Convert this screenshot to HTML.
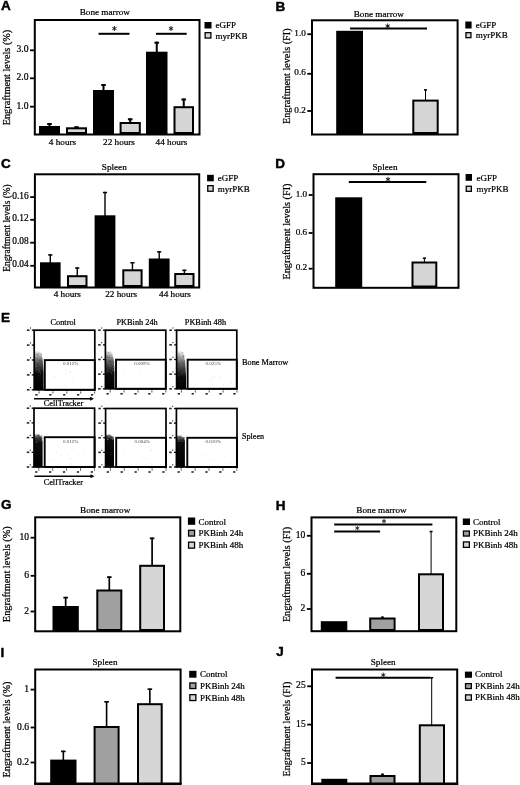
<!DOCTYPE html>
<html><head><meta charset="utf-8"><title>Figure</title>
<style>
html,body{margin:0;padding:0;background:#fff;}
body{width:520px;height:785px;overflow:hidden;}
svg{display:block;filter:grayscale(1) blur(0.45px);}
svg text{font-family:"Liberation Serif", serif;stroke:currentColor;stroke-width:0.22px;}
</style></head>
<body>
<svg width="520" height="785" viewBox="0 0 520 785" font-family='"Liberation Serif", serif'>
<rect x="0" y="0" width="520" height="785" fill="#fff"/>
<text x="1" y="10.0" style='font-family:"Liberation Sans", sans-serif;font-weight:bold;stroke:#000;stroke-width:0.45px' font-size="13.5">A</text>
<text x="104.8" y="14.6" font-size="9.2" text-anchor="middle" fill="#000" >Bone marrow</text>
<rect x="34.8" y="20.0" width="164.7" height="114.5" fill="none" stroke="#000" stroke-width="2"/>
<line x1="30" y1="50.3" x2="34" y2="50.3" stroke="#000" stroke-width="1.8"/>
<text x="28.5" y="48.8" font-size="9.6" text-anchor="end" fill="#000" dominant-baseline="central">3.0</text>
<line x1="30" y1="78.3" x2="34" y2="78.3" stroke="#000" stroke-width="1.8"/>
<text x="28.5" y="76.8" font-size="9.6" text-anchor="end" fill="#000" dominant-baseline="central">2.0</text>
<line x1="30" y1="106.7" x2="34" y2="106.7" stroke="#000" stroke-width="1.8"/>
<text x="28.5" y="105.2" font-size="9.6" text-anchor="end" fill="#000" dominant-baseline="central">1.0</text>
<text transform="translate(6.6,77.5) rotate(-90)" x="0" y="0" font-size="10.2" text-anchor="middle" dominant-baseline="central" textLength="95.5" lengthAdjust="spacingAndGlyphs">Engraftment levels (%)</text>
<line x1="49.5" y1="123" x2="49.5" y2="127" stroke="#000" stroke-width="2"/>
<line x1="47.2" y1="124.0" x2="51.8" y2="124.0" stroke="#000" stroke-width="2"/>
<rect x="39" y="126" width="21" height="8" fill="#000"/>
<line x1="76.5" y1="126.3" x2="76.5" y2="128.3" stroke="#000" stroke-width="2"/>
<line x1="74.2" y1="127.3" x2="78.8" y2="127.3" stroke="#000" stroke-width="2"/>
<rect x="67.0" y="128.3" width="19" height="4.700000000000003" fill="#d6d6d6" stroke="#000" stroke-width="2"/>
<line x1="103.5" y1="84" x2="103.5" y2="91" stroke="#000" stroke-width="2"/>
<line x1="101.2" y1="85.0" x2="105.8" y2="85.0" stroke="#000" stroke-width="2"/>
<rect x="93" y="90" width="21" height="44" fill="#000"/>
<line x1="130.2" y1="118.3" x2="130.2" y2="123" stroke="#000" stroke-width="2"/>
<line x1="127.89999999999999" y1="119.3" x2="132.5" y2="119.3" stroke="#000" stroke-width="2"/>
<rect x="120.6" y="123.0" width="19.200000000000017" height="10" fill="#d6d6d6" stroke="#000" stroke-width="2"/>
<line x1="156.75" y1="41.7" x2="156.75" y2="52.7" stroke="#000" stroke-width="2"/>
<line x1="154.45" y1="42.7" x2="159.05" y2="42.7" stroke="#000" stroke-width="2"/>
<rect x="146" y="51.7" width="21.5" height="82.3" fill="#000"/>
<line x1="183.75" y1="98.5" x2="183.75" y2="107.2" stroke="#000" stroke-width="2"/>
<line x1="181.45" y1="99.5" x2="186.05" y2="99.5" stroke="#000" stroke-width="2"/>
<rect x="174.5" y="107.2" width="18.5" height="25.799999999999997" fill="#d6d6d6" stroke="#000" stroke-width="2"/>
<line x1="98.5" y1="33.8" x2="129.5" y2="33.8" stroke="#000" stroke-width="2"/>
<line x1="114.4" y1="26.0" x2="114.4" y2="31.0" stroke="#000" stroke-width="0.85"/>
<line x1="112.23" y1="27.25" x2="116.57" y2="29.75" stroke="#000" stroke-width="0.85"/>
<line x1="116.57" y1="27.25" x2="112.23" y2="29.75" stroke="#000" stroke-width="0.85"/>
<line x1="156" y1="33.8" x2="186.7" y2="33.8" stroke="#000" stroke-width="2"/>
<line x1="171.0" y1="26.0" x2="171.0" y2="31.0" stroke="#000" stroke-width="0.85"/>
<line x1="168.83" y1="27.25" x2="173.17" y2="29.75" stroke="#000" stroke-width="0.85"/>
<line x1="173.17" y1="27.25" x2="168.83" y2="29.75" stroke="#000" stroke-width="0.85"/>
<text x="62.5" y="144.6" font-size="9.2" text-anchor="middle" fill="#000" >4 hours</text>
<text x="119" y="144.6" font-size="9.2" text-anchor="middle" fill="#000" >22 hours</text>
<text x="171.5" y="144.6" font-size="9.2" text-anchor="middle" fill="#000" >44 hours</text>
<rect x="204.5" y="22" width="7.0" height="6.5" fill="#000"/>
<text x="215.6" y="28.1" font-size="9.0" text-anchor="start" fill="#000" >eGFP</text>
<rect x="205.15" y="32.65" width="5.7" height="5.400000000000003" fill="#d6d6d6" stroke="#000" stroke-width="1.3"/>
<text x="215.6" y="38.7" font-size="9.0" text-anchor="start" fill="#000" >myrPKB</text>
<text x="275.6" y="10.6" style='font-family:"Liberation Sans", sans-serif;font-weight:bold;stroke:#000;stroke-width:0.45px' font-size="13.5">B</text>
<text x="378.8" y="16.7" font-size="9.2" text-anchor="middle" fill="#000" >Bone marrow</text>
<rect x="312.0" y="20.3" width="145.60000000000002" height="114.2" fill="none" stroke="#000" stroke-width="2"/>
<line x1="307.3" y1="34.2" x2="311.3" y2="34.2" stroke="#000" stroke-width="1.8"/>
<text x="305.8" y="32.7" font-size="9.2" text-anchor="end" fill="#000" dominant-baseline="central">1.0</text>
<line x1="307.3" y1="73.8" x2="311.3" y2="73.8" stroke="#000" stroke-width="1.8"/>
<text x="305.8" y="72.3" font-size="9.2" text-anchor="end" fill="#000" dominant-baseline="central">0.6</text>
<line x1="307.3" y1="111" x2="311.3" y2="111" stroke="#000" stroke-width="1.8"/>
<text x="305.8" y="109.5" font-size="9.2" text-anchor="end" fill="#000" dominant-baseline="central">0.2</text>
<text transform="translate(286.5,76.2) rotate(-90)" x="0" y="0" font-size="10.1" text-anchor="middle" dominant-baseline="central" textLength="95.5" lengthAdjust="spacingAndGlyphs">Engraftment levels (FI)</text>
<rect x="336.2" y="30.8" width="26.80000000000001" height="103.2" fill="#000"/>
<line x1="425.5" y1="89.2" x2="425.5" y2="100.5" stroke="#000" stroke-width="1"/>
<line x1="424.0" y1="89.95" x2="427.0" y2="89.95" stroke="#000" stroke-width="1.5"/>
<rect x="413.3" y="100.6" width="24.399999999999977" height="32.400000000000006" fill="#d6d6d6" stroke="#000" stroke-width="2"/>
<line x1="350" y1="28.6" x2="427" y2="28.6" stroke="#000" stroke-width="2"/>
<line x1="387.7" y1="23.5" x2="387.7" y2="28.5" stroke="#000" stroke-width="0.85"/>
<line x1="385.53" y1="24.75" x2="389.87" y2="27.25" stroke="#000" stroke-width="0.85"/>
<line x1="389.87" y1="24.75" x2="385.53" y2="27.25" stroke="#000" stroke-width="0.85"/>
<rect x="465.3" y="21.5" width="6.300000000000011" height="7.0" fill="#000"/>
<text x="475.8" y="28.0" font-size="9.0" text-anchor="start" fill="#000" >eGFP</text>
<rect x="465.95" y="32.65" width="5.0000000000000115" height="4.999999999999997" fill="#d6d6d6" stroke="#000" stroke-width="1.3"/>
<text x="475.8" y="38.0" font-size="9.0" text-anchor="start" fill="#000" >myrPKB</text>
<text x="1" y="167.7" style='font-family:"Liberation Sans", sans-serif;font-weight:bold;stroke:#000;stroke-width:0.45px' font-size="13.5">C</text>
<text x="114.3" y="170.2" font-size="9.2" text-anchor="middle" fill="#000" >Spleen</text>
<rect x="34.9" y="174.3" width="164.29999999999998" height="113.19999999999999" fill="none" stroke="#000" stroke-width="2"/>
<line x1="30.200000000000003" y1="197.1" x2="34.2" y2="197.1" stroke="#000" stroke-width="1.8"/>
<text x="28.700000000000003" y="195.6" font-size="9.4" text-anchor="end" fill="#000" dominant-baseline="central">0.16</text>
<line x1="30.200000000000003" y1="219.8" x2="34.2" y2="219.8" stroke="#000" stroke-width="1.8"/>
<text x="28.700000000000003" y="218.3" font-size="9.4" text-anchor="end" fill="#000" dominant-baseline="central">0.12</text>
<line x1="30.200000000000003" y1="242.7" x2="34.2" y2="242.7" stroke="#000" stroke-width="1.8"/>
<text x="28.700000000000003" y="241.2" font-size="9.4" text-anchor="end" fill="#000" dominant-baseline="central">0.08</text>
<line x1="30.200000000000003" y1="265.8" x2="34.2" y2="265.8" stroke="#000" stroke-width="1.8"/>
<text x="28.700000000000003" y="264.3" font-size="9.4" text-anchor="end" fill="#000" dominant-baseline="central">0.04</text>
<text transform="translate(6.5,228) rotate(-90)" x="0" y="0" font-size="9.4" text-anchor="middle" dominant-baseline="central" textLength="87.5" lengthAdjust="spacingAndGlyphs">Engraftment levels (%)</text>
<line x1="50.3" y1="254.2" x2="50.3" y2="263.3" stroke="#000" stroke-width="1.4"/>
<line x1="48.199999999999996" y1="254.95" x2="52.4" y2="254.95" stroke="#000" stroke-width="1.5"/>
<rect x="40" y="262.3" width="20.6" height="24.69999999999999" fill="#000"/>
<line x1="77.25" y1="267.3" x2="77.25" y2="276.2" stroke="#000" stroke-width="1.4"/>
<line x1="75.15" y1="268.05" x2="79.35" y2="268.05" stroke="#000" stroke-width="1.5"/>
<rect x="68.0" y="276.2" width="18.5" height="9.800000000000011" fill="#d6d6d6" stroke="#000" stroke-width="2"/>
<line x1="105.0" y1="191.79999999999998" x2="105.0" y2="216.3" stroke="#000" stroke-width="1.4"/>
<line x1="102.9" y1="192.54999999999998" x2="107.1" y2="192.54999999999998" stroke="#000" stroke-width="1.5"/>
<rect x="94.6" y="215.3" width="20.80000000000001" height="71.69999999999999" fill="#000"/>
<line x1="132.45" y1="262.0" x2="132.45" y2="270.3" stroke="#000" stroke-width="1.4"/>
<line x1="130.35" y1="262.75" x2="134.54999999999998" y2="262.75" stroke="#000" stroke-width="1.5"/>
<rect x="123.3" y="270.3" width="18.299999999999997" height="15.699999999999989" fill="#d6d6d6" stroke="#000" stroke-width="2"/>
<line x1="159.2" y1="251.1" x2="159.2" y2="259.5" stroke="#000" stroke-width="1.4"/>
<line x1="157.1" y1="251.85" x2="161.29999999999998" y2="251.85" stroke="#000" stroke-width="1.5"/>
<rect x="148.8" y="258.5" width="20.799999999999983" height="28.5" fill="#000"/>
<line x1="184.35" y1="269.6" x2="184.35" y2="274" stroke="#000" stroke-width="1.4"/>
<line x1="182.25" y1="270.35" x2="186.45" y2="270.35" stroke="#000" stroke-width="1.5"/>
<rect x="175.2" y="274.0" width="18.30000000000001" height="12" fill="#d6d6d6" stroke="#000" stroke-width="2"/>
<text x="67.3" y="297.2" font-size="9.2" text-anchor="middle" fill="#000" >4 hours</text>
<text x="121.2" y="297.2" font-size="9.2" text-anchor="middle" fill="#000" >22 hours</text>
<text x="175" y="297.2" font-size="9.2" text-anchor="middle" fill="#000" >44 hours</text>
<rect x="207.1" y="174.8" width="6.700000000000017" height="6.5" fill="#000"/>
<text x="217.8" y="181.2" font-size="9.0" text-anchor="start" fill="#000" >eGFP</text>
<rect x="207.75" y="185.65" width="5.400000000000017" height="5.600000000000006" fill="#d6d6d6" stroke="#000" stroke-width="1.3"/>
<text x="217.8" y="191.6" font-size="9.0" text-anchor="start" fill="#000" >myrPKB</text>
<text x="275.3" y="168" style='font-family:"Liberation Sans", sans-serif;font-weight:bold;stroke:#000;stroke-width:0.45px' font-size="13.5">D</text>
<text x="385" y="170" font-size="9.2" text-anchor="middle" fill="#000" >Spleen</text>
<rect x="313.5" y="174.2" width="145.0" height="113.60000000000002" fill="none" stroke="#000" stroke-width="2"/>
<line x1="308.7" y1="195" x2="312.7" y2="195" stroke="#000" stroke-width="1.8"/>
<text x="307.2" y="193.5" font-size="9.2" text-anchor="end" fill="#000" dominant-baseline="central">1.0</text>
<line x1="308.7" y1="233" x2="312.7" y2="233" stroke="#000" stroke-width="1.8"/>
<text x="307.2" y="231.5" font-size="9.2" text-anchor="end" fill="#000" dominant-baseline="central">0.6</text>
<line x1="308.7" y1="268.7" x2="312.7" y2="268.7" stroke="#000" stroke-width="1.8"/>
<text x="307.2" y="267.2" font-size="9.2" text-anchor="end" fill="#000" dominant-baseline="central">0.2</text>
<text transform="translate(286.5,231.5) rotate(-90)" x="0" y="0" font-size="10.1" text-anchor="middle" dominant-baseline="central" textLength="96" lengthAdjust="spacingAndGlyphs">Engraftment levels (FI)</text>
<rect x="335.2" y="197.3" width="27.0" height="90.19999999999999" fill="#000"/>
<line x1="424.4" y1="257.5" x2="424.4" y2="262.5" stroke="#000" stroke-width="1"/>
<line x1="422.9" y1="258.25" x2="425.9" y2="258.25" stroke="#000" stroke-width="1.5"/>
<rect x="412.5" y="262.5" width="23.80000000000001" height="24.0" fill="#d6d6d6" stroke="#000" stroke-width="2"/>
<line x1="348.8" y1="182" x2="426.3" y2="182" stroke="#000" stroke-width="2"/>
<line x1="388.0" y1="176.8" x2="388.0" y2="181.8" stroke="#000" stroke-width="0.85"/>
<line x1="385.83" y1="178.05" x2="390.17" y2="180.55" stroke="#000" stroke-width="0.85"/>
<line x1="390.17" y1="178.05" x2="385.83" y2="180.55" stroke="#000" stroke-width="0.85"/>
<rect x="465.6" y="174" width="6.399999999999977" height="6.800000000000011" fill="#000"/>
<text x="476.5" y="180.8" font-size="9.0" text-anchor="start" fill="#000" >eGFP</text>
<rect x="466.25" y="186.25" width="5.099999999999977" height="5.100000000000006" fill="#d6d6d6" stroke="#000" stroke-width="1.3"/>
<text x="476.5" y="191.5" font-size="9.0" text-anchor="start" fill="#000" >myrPKB</text>
<text x="1" y="321.9" style='font-family:"Liberation Sans", sans-serif;font-weight:bold;stroke:#000;stroke-width:0.45px' font-size="13.5">E</text>
<defs><linearGradient id="g34_330" x1="0" y1="1" x2="0" y2="0"><stop offset="0" stop-color="#000"/><stop offset="0.433" stop-color="#0c0c0c"/><stop offset="0.768" stop-color="#6a6a6a"/><stop offset="1" stop-color="#f4f4f4"/></linearGradient></defs>
<polygon points="34.2,389.8 43.6,389.8 43.6,373 42.800000000000004,360 41.1,353 39.2,351 34.2,351" fill="url(#g34_330)"/>
<rect x="37.6" y="355.2" width="1" height="1" fill="rgb(123,123,123)" opacity="0.6"/>
<rect x="35.6" y="369.2" width="1" height="1" fill="rgb(52,52,52)" opacity="0.6"/>
<rect x="37.9" y="353.2" width="1" height="1" fill="rgb(104,104,104)" opacity="0.6"/>
<rect x="36.8" y="353.8" width="1" height="1" fill="rgb(93,93,93)" opacity="0.6"/>
<rect x="35.7" y="353.9" width="1" height="1" fill="rgb(94,94,94)" opacity="0.6"/>
<rect x="35.6" y="363.9" width="1" height="1" fill="rgb(68,68,68)" opacity="0.6"/>
<rect x="39.9" y="364.2" width="1" height="1" fill="rgb(47,47,47)" opacity="0.6"/>
<rect x="39.5" y="360.3" width="1" height="1" fill="rgb(68,68,68)" opacity="0.6"/>
<rect x="35.5" y="370.0" width="1" height="1" fill="rgb(77,77,77)" opacity="0.6"/>
<rect x="38.3" y="363.4" width="1" height="1" fill="rgb(113,113,113)" opacity="0.6"/>
<rect x="37.5" y="369.1" width="1" height="1" fill="rgb(63,63,63)" opacity="0.6"/>
<rect x="36.0" y="364.0" width="1" height="1" fill="rgb(64,64,64)" opacity="0.6"/>
<rect x="38.0" y="363.5" width="1" height="1" fill="rgb(48,48,48)" opacity="0.6"/>
<rect x="39.4" y="365.0" width="1" height="1" fill="rgb(103,103,103)" opacity="0.6"/>
<rect x="40.2" y="361.0" width="1" height="1" fill="rgb(80,80,80)" opacity="0.6"/>
<rect x="38.6" y="371.4" width="1" height="1" fill="rgb(86,86,86)" opacity="0.6"/>
<rect x="37.4" y="368.7" width="1" height="1" fill="rgb(129,129,129)" opacity="0.6"/>
<rect x="41.0" y="353.7" width="1" height="1" fill="rgb(78,78,78)" opacity="0.6"/>
<rect x="39.1" y="370.4" width="1" height="1" fill="rgb(133,133,133)" opacity="0.6"/>
<rect x="38.5" y="364.8" width="1" height="1" fill="rgb(49,49,49)" opacity="0.6"/>
<rect x="36.1" y="360.8" width="1" height="1" fill="rgb(136,136,136)" opacity="0.6"/>
<rect x="37.7" y="371.6" width="1" height="1" fill="rgb(93,93,93)" opacity="0.6"/>
<rect x="35.5" y="366.0" width="1" height="1" fill="rgb(137,137,137)" opacity="0.6"/>
<rect x="39.3" y="368.6" width="1" height="1" fill="rgb(80,80,80)" opacity="0.6"/>
<rect x="37.7" y="359.4" width="1" height="1" fill="rgb(103,103,103)" opacity="0.6"/>
<rect x="39.5" y="361.6" width="1" height="1" fill="rgb(51,51,51)" opacity="0.6"/>
<rect x="42.2" y="362.0" width="1" height="1" fill="rgb(125,125,125)" opacity="0.6"/>
<rect x="35.7" y="367.4" width="1" height="1" fill="rgb(79,79,79)" opacity="0.6"/>
<rect x="40.0" y="372.9" width="1" height="1" fill="rgb(97,97,97)" opacity="0.6"/>
<rect x="37.3" y="360.1" width="1" height="1" fill="rgb(125,125,125)" opacity="0.6"/>
<rect x="63.4" y="385.7" width="1" height="1" fill="#e6e6e6"/>
<rect x="63.7" y="379.5" width="1" height="1" fill="#e6e6e6"/>
<rect x="69.5" y="372.2" width="1" height="1" fill="#e6e6e6"/>
<rect x="60.9" y="381.9" width="1" height="1" fill="#e6e6e6"/>
<rect x="65.5" y="385.2" width="1" height="1" fill="#e6e6e6"/>
<rect x="69.7" y="371.2" width="1" height="1" fill="#e6e6e6"/>
<rect x="65.7" y="373.3" width="1" height="1" fill="#e6e6e6"/>
<rect x="54.6" y="376.2" width="1" height="1" fill="#e6e6e6"/>
<rect x="71.9" y="381.3" width="1" height="1" fill="#e6e6e6"/>
<rect x="90.2" y="380.9" width="1" height="1" fill="#e6e6e6"/>
<rect x="34.2" y="330.2" width="60.599999999999994" height="59.60000000000002" fill="none" stroke="#000" stroke-width="1.7"/>
<rect x="44.8" y="360.1" width="50.0" height="29.69999999999999" fill="none" stroke="#000" stroke-width="1.9"/>
<text x="70.8" y="365.40000000000003" font-size="5.0" text-anchor="middle" fill="#444" style="stroke:none">0.012%</text>
<line x1="31.800000000000004" y1="389.8" x2="34.2" y2="389.8" stroke="#000" stroke-width="1.3"/>
<rect x="26.900000000000002" y="389.0" width="2.6000000000000014" height="1.6000000000000227" fill="#2a2a2a"/>
<rect x="30.000000000000004" y="387.0" width="1.0" height="1.1999999999999886" fill="#222"/>
<line x1="31.800000000000004" y1="374.9" x2="34.2" y2="374.9" stroke="#000" stroke-width="1.3"/>
<rect x="26.900000000000002" y="374.09999999999997" width="2.6000000000000014" height="1.6000000000000227" fill="#2a2a2a"/>
<rect x="30.000000000000004" y="372.09999999999997" width="1.0" height="1.1999999999999886" fill="#222"/>
<line x1="31.800000000000004" y1="360.0" x2="34.2" y2="360.0" stroke="#000" stroke-width="1.3"/>
<rect x="26.900000000000002" y="359.2" width="2.6000000000000014" height="1.6000000000000227" fill="#2a2a2a"/>
<rect x="30.000000000000004" y="357.2" width="1.0" height="1.1999999999999886" fill="#222"/>
<line x1="31.800000000000004" y1="345.1" x2="34.2" y2="345.1" stroke="#000" stroke-width="1.3"/>
<rect x="26.900000000000002" y="344.3" width="2.6000000000000014" height="1.6000000000000227" fill="#2a2a2a"/>
<rect x="30.000000000000004" y="342.3" width="1.0" height="1.1999999999999886" fill="#222"/>
<line x1="31.800000000000004" y1="330.2" x2="34.2" y2="330.2" stroke="#000" stroke-width="1.3"/>
<rect x="26.900000000000002" y="329.4" width="2.6000000000000014" height="1.6000000000000227" fill="#2a2a2a"/>
<rect x="30.000000000000004" y="327.4" width="1.0" height="1.1999999999999886" fill="#222"/>
<rect x="35.300000000000004" y="394.0" width="2.299999999999997" height="1.6000000000000227" fill="#2a2a2a"/>
<rect x="38.50000000000001" y="392.2" width="1.0" height="1.2000000000000455" fill="#222"/>
<line x1="39.00000000000001" y1="389.8" x2="39.00000000000001" y2="391.40000000000003" stroke="#000" stroke-width="1.0"/>
<rect x="49.2" y="394.0" width="2.299999999999997" height="1.6000000000000227" fill="#2a2a2a"/>
<rect x="52.400000000000006" y="392.2" width="1.0" height="1.2000000000000455" fill="#222"/>
<line x1="52.900000000000006" y1="389.8" x2="52.900000000000006" y2="391.40000000000003" stroke="#000" stroke-width="1.0"/>
<rect x="63.10000000000001" y="394.0" width="2.299999999999997" height="1.6000000000000227" fill="#2a2a2a"/>
<rect x="66.30000000000001" y="392.2" width="1.0" height="1.2000000000000455" fill="#222"/>
<line x1="66.80000000000001" y1="389.8" x2="66.80000000000001" y2="391.40000000000003" stroke="#000" stroke-width="1.0"/>
<rect x="77.0" y="394.0" width="2.299999999999997" height="1.6000000000000227" fill="#2a2a2a"/>
<rect x="80.2" y="392.2" width="1.0" height="1.2000000000000455" fill="#222"/>
<line x1="80.7" y1="389.8" x2="80.7" y2="391.40000000000003" stroke="#000" stroke-width="1.0"/>
<rect x="90.9" y="394.0" width="2.299999999999997" height="1.6000000000000227" fill="#2a2a2a"/>
<rect x="94.10000000000001" y="392.2" width="1.0" height="1.2000000000000455" fill="#222"/>
<line x1="94.60000000000001" y1="389.8" x2="94.60000000000001" y2="391.40000000000003" stroke="#000" stroke-width="1.0"/>
<defs><linearGradient id="g105_330" x1="0" y1="1" x2="0" y2="0"><stop offset="0" stop-color="#000"/><stop offset="0.399" stop-color="#0c0c0c"/><stop offset="0.762" stop-color="#6a6a6a"/><stop offset="1" stop-color="#f4f4f4"/></linearGradient></defs>
<polygon points="105.4,388.8 114.6,388.8 114.6,373.7 113.8,360 112.1,353 110.4,351 105.4,351" fill="url(#g105_330)"/>
<rect x="109.1" y="357.0" width="1" height="1" fill="rgb(50,50,50)" opacity="0.6"/>
<rect x="107.7" y="357.0" width="1" height="1" fill="rgb(69,69,69)" opacity="0.6"/>
<rect x="106.5" y="370.0" width="1" height="1" fill="rgb(63,63,63)" opacity="0.6"/>
<rect x="108.3" y="352.1" width="1" height="1" fill="rgb(93,93,93)" opacity="0.6"/>
<rect x="110.2" y="365.2" width="1" height="1" fill="rgb(80,80,80)" opacity="0.6"/>
<rect x="113.3" y="367.0" width="1" height="1" fill="rgb(105,105,105)" opacity="0.6"/>
<rect x="113.2" y="366.2" width="1" height="1" fill="rgb(134,134,134)" opacity="0.6"/>
<rect x="106.8" y="371.5" width="1" height="1" fill="rgb(139,139,139)" opacity="0.6"/>
<rect x="113.3" y="366.8" width="1" height="1" fill="rgb(111,111,111)" opacity="0.6"/>
<rect x="109.2" y="360.7" width="1" height="1" fill="rgb(53,53,53)" opacity="0.6"/>
<rect x="109.9" y="360.7" width="1" height="1" fill="rgb(64,64,64)" opacity="0.6"/>
<rect x="106.9" y="356.5" width="1" height="1" fill="rgb(60,60,60)" opacity="0.6"/>
<rect x="107.2" y="365.0" width="1" height="1" fill="rgb(53,53,53)" opacity="0.6"/>
<rect x="106.4" y="355.3" width="1" height="1" fill="rgb(52,52,52)" opacity="0.6"/>
<rect x="113.2" y="365.3" width="1" height="1" fill="rgb(49,49,49)" opacity="0.6"/>
<rect x="112.7" y="365.3" width="1" height="1" fill="rgb(59,59,59)" opacity="0.6"/>
<rect x="111.0" y="372.7" width="1" height="1" fill="rgb(117,117,117)" opacity="0.6"/>
<rect x="109.0" y="354.7" width="1" height="1" fill="rgb(102,102,102)" opacity="0.6"/>
<rect x="113.6" y="362.1" width="1" height="1" fill="rgb(101,101,101)" opacity="0.6"/>
<rect x="108.6" y="355.1" width="1" height="1" fill="rgb(135,135,135)" opacity="0.6"/>
<rect x="108.9" y="357.7" width="1" height="1" fill="rgb(128,128,128)" opacity="0.6"/>
<rect x="107.6" y="352.5" width="1" height="1" fill="rgb(107,107,107)" opacity="0.6"/>
<rect x="109.0" y="367.0" width="1" height="1" fill="rgb(43,43,43)" opacity="0.6"/>
<rect x="111.9" y="358.5" width="1" height="1" fill="rgb(122,122,122)" opacity="0.6"/>
<rect x="112.6" y="367.1" width="1" height="1" fill="rgb(73,73,73)" opacity="0.6"/>
<rect x="110.1" y="371.7" width="1" height="1" fill="rgb(85,85,85)" opacity="0.6"/>
<rect x="112.0" y="363.6" width="1" height="1" fill="rgb(139,139,139)" opacity="0.6"/>
<rect x="110.0" y="365.8" width="1" height="1" fill="rgb(118,118,118)" opacity="0.6"/>
<rect x="112.2" y="373.4" width="1" height="1" fill="rgb(64,64,64)" opacity="0.6"/>
<rect x="112.2" y="369.8" width="1" height="1" fill="rgb(134,134,134)" opacity="0.6"/>
<rect x="153.6" y="371.3" width="1" height="1" fill="#e6e6e6"/>
<rect x="140.6" y="380.9" width="1" height="1" fill="#e6e6e6"/>
<rect x="161.4" y="382.0" width="1" height="1" fill="#e6e6e6"/>
<rect x="139.7" y="371.2" width="1" height="1" fill="#e6e6e6"/>
<rect x="145.3" y="373.9" width="1" height="1" fill="#e6e6e6"/>
<rect x="153.8" y="380.8" width="1" height="1" fill="#e6e6e6"/>
<rect x="134.6" y="385.3" width="1" height="1" fill="#e6e6e6"/>
<rect x="123.4" y="369.5" width="1" height="1" fill="#e6e6e6"/>
<rect x="139.6" y="373.8" width="1" height="1" fill="#e6e6e6"/>
<rect x="140.2" y="385.5" width="1" height="1" fill="#e6e6e6"/>
<rect x="105.4" y="330.2" width="60.400000000000006" height="58.60000000000002" fill="none" stroke="#000" stroke-width="1.7"/>
<rect x="116.0" y="359.7" width="49.80000000000001" height="29.100000000000023" fill="none" stroke="#000" stroke-width="1.9"/>
<text x="141.9" y="365.0" font-size="5.0" text-anchor="middle" fill="#444" style="stroke:none">0.009%</text>
<line x1="103.0" y1="388.8" x2="105.4" y2="388.8" stroke="#000" stroke-width="1.3"/>
<rect x="98.10000000000001" y="388.0" width="2.5999999999999943" height="1.6000000000000227" fill="#2a2a2a"/>
<rect x="101.2" y="386.0" width="1.0" height="1.1999999999999886" fill="#222"/>
<line x1="103.0" y1="374.15" x2="105.4" y2="374.15" stroke="#000" stroke-width="1.3"/>
<rect x="98.10000000000001" y="373.34999999999997" width="2.5999999999999943" height="1.6000000000000227" fill="#2a2a2a"/>
<rect x="101.2" y="371.34999999999997" width="1.0" height="1.1999999999999886" fill="#222"/>
<line x1="103.0" y1="359.5" x2="105.4" y2="359.5" stroke="#000" stroke-width="1.3"/>
<rect x="98.10000000000001" y="358.7" width="2.5999999999999943" height="1.6000000000000227" fill="#2a2a2a"/>
<rect x="101.2" y="356.7" width="1.0" height="1.1999999999999886" fill="#222"/>
<line x1="103.0" y1="344.85" x2="105.4" y2="344.85" stroke="#000" stroke-width="1.3"/>
<rect x="98.10000000000001" y="344.05" width="2.5999999999999943" height="1.6000000000000227" fill="#2a2a2a"/>
<rect x="101.2" y="342.05" width="1.0" height="1.1999999999999886" fill="#222"/>
<line x1="103.0" y1="330.2" x2="105.4" y2="330.2" stroke="#000" stroke-width="1.3"/>
<rect x="98.10000000000001" y="329.4" width="2.5999999999999943" height="1.6000000000000227" fill="#2a2a2a"/>
<rect x="101.2" y="327.4" width="1.0" height="1.1999999999999886" fill="#222"/>
<rect x="106.5" y="393.0" width="2.299999999999997" height="1.6000000000000227" fill="#2a2a2a"/>
<rect x="109.7" y="391.2" width="1.0" height="1.2000000000000455" fill="#222"/>
<line x1="110.2" y1="388.8" x2="110.2" y2="390.40000000000003" stroke="#000" stroke-width="1.0"/>
<rect x="120.4" y="393.0" width="2.299999999999997" height="1.6000000000000227" fill="#2a2a2a"/>
<rect x="123.60000000000001" y="391.2" width="1.0" height="1.2000000000000455" fill="#222"/>
<line x1="124.10000000000001" y1="388.8" x2="124.10000000000001" y2="390.40000000000003" stroke="#000" stroke-width="1.0"/>
<rect x="134.3" y="393.0" width="2.3000000000000114" height="1.6000000000000227" fill="#2a2a2a"/>
<rect x="137.5" y="391.2" width="1.0" height="1.2000000000000455" fill="#222"/>
<line x1="138.0" y1="388.8" x2="138.0" y2="390.40000000000003" stroke="#000" stroke-width="1.0"/>
<rect x="148.2" y="393.0" width="2.3000000000000114" height="1.6000000000000227" fill="#2a2a2a"/>
<rect x="151.39999999999998" y="391.2" width="1.0" height="1.2000000000000455" fill="#222"/>
<line x1="151.89999999999998" y1="388.8" x2="151.89999999999998" y2="390.40000000000003" stroke="#000" stroke-width="1.0"/>
<rect x="162.1" y="393.0" width="2.3000000000000114" height="1.6000000000000227" fill="#2a2a2a"/>
<rect x="165.29999999999998" y="391.2" width="1.0" height="1.2000000000000455" fill="#222"/>
<line x1="165.79999999999998" y1="388.8" x2="165.79999999999998" y2="390.40000000000003" stroke="#000" stroke-width="1.0"/>
<defs><linearGradient id="g176_330" x1="0" y1="1" x2="0" y2="0"><stop offset="0" stop-color="#000"/><stop offset="0.339" stop-color="#0c0c0c"/><stop offset="0.709" stop-color="#6a6a6a"/><stop offset="1" stop-color="#f4f4f4"/></linearGradient></defs>
<polygon points="176.6,388.8 186.0,388.8 186.0,376 185.2,362 183.5,353 181.6,351 176.6,351" fill="url(#g176_330)"/>
<rect x="182.1" y="352.0" width="1" height="1" fill="rgb(123,123,123)" opacity="0.6"/>
<rect x="180.1" y="367.4" width="1" height="1" fill="rgb(124,124,124)" opacity="0.6"/>
<rect x="178.5" y="361.3" width="1" height="1" fill="rgb(131,131,131)" opacity="0.6"/>
<rect x="183.2" y="363.5" width="1" height="1" fill="rgb(62,62,62)" opacity="0.6"/>
<rect x="180.8" y="367.3" width="1" height="1" fill="rgb(51,51,51)" opacity="0.6"/>
<rect x="183.5" y="375.3" width="1" height="1" fill="rgb(90,90,90)" opacity="0.6"/>
<rect x="181.0" y="369.8" width="1" height="1" fill="rgb(50,50,50)" opacity="0.6"/>
<rect x="183.0" y="356.1" width="1" height="1" fill="rgb(56,56,56)" opacity="0.6"/>
<rect x="177.8" y="366.2" width="1" height="1" fill="rgb(99,99,99)" opacity="0.6"/>
<rect x="183.6" y="355.5" width="1" height="1" fill="rgb(116,116,116)" opacity="0.6"/>
<rect x="184.9" y="367.8" width="1" height="1" fill="rgb(84,84,84)" opacity="0.6"/>
<rect x="178.8" y="365.2" width="1" height="1" fill="rgb(42,42,42)" opacity="0.6"/>
<rect x="177.7" y="375.3" width="1" height="1" fill="rgb(123,123,123)" opacity="0.6"/>
<rect x="178.4" y="370.0" width="1" height="1" fill="rgb(57,57,57)" opacity="0.6"/>
<rect x="180.8" y="372.9" width="1" height="1" fill="rgb(67,67,67)" opacity="0.6"/>
<rect x="177.8" y="357.1" width="1" height="1" fill="rgb(104,104,104)" opacity="0.6"/>
<rect x="179.4" y="366.1" width="1" height="1" fill="rgb(73,73,73)" opacity="0.6"/>
<rect x="181.6" y="372.0" width="1" height="1" fill="rgb(47,47,47)" opacity="0.6"/>
<rect x="184.3" y="360.5" width="1" height="1" fill="rgb(98,98,98)" opacity="0.6"/>
<rect x="182.5" y="371.6" width="1" height="1" fill="rgb(106,106,106)" opacity="0.6"/>
<rect x="180.7" y="374.0" width="1" height="1" fill="rgb(104,104,104)" opacity="0.6"/>
<rect x="178.6" y="355.6" width="1" height="1" fill="rgb(105,105,105)" opacity="0.6"/>
<rect x="177.7" y="362.6" width="1" height="1" fill="rgb(63,63,63)" opacity="0.6"/>
<rect x="182.1" y="370.6" width="1" height="1" fill="rgb(59,59,59)" opacity="0.6"/>
<rect x="178.9" y="363.4" width="1" height="1" fill="rgb(132,132,132)" opacity="0.6"/>
<rect x="178.5" y="353.5" width="1" height="1" fill="rgb(127,127,127)" opacity="0.6"/>
<rect x="181.4" y="365.3" width="1" height="1" fill="rgb(140,140,140)" opacity="0.6"/>
<rect x="183.3" y="373.2" width="1" height="1" fill="rgb(47,47,47)" opacity="0.6"/>
<rect x="179.4" y="358.6" width="1" height="1" fill="rgb(138,138,138)" opacity="0.6"/>
<rect x="178.3" y="362.9" width="1" height="1" fill="rgb(43,43,43)" opacity="0.6"/>
<rect x="222.9" y="384.2" width="1" height="1" fill="#e6e6e6"/>
<rect x="209.9" y="378.8" width="1" height="1" fill="#e6e6e6"/>
<rect x="212.4" y="377.0" width="1" height="1" fill="#e6e6e6"/>
<rect x="220.1" y="375.9" width="1" height="1" fill="#e6e6e6"/>
<rect x="213.6" y="376.4" width="1" height="1" fill="#e6e6e6"/>
<rect x="230.4" y="380.4" width="1" height="1" fill="#e6e6e6"/>
<rect x="227.7" y="384.8" width="1" height="1" fill="#e6e6e6"/>
<rect x="202.3" y="377.8" width="1" height="1" fill="#e6e6e6"/>
<rect x="230.5" y="382.9" width="1" height="1" fill="#e6e6e6"/>
<rect x="197.2" y="369.9" width="1" height="1" fill="#e6e6e6"/>
<rect x="176.6" y="330.2" width="60.20000000000002" height="58.60000000000002" fill="none" stroke="#000" stroke-width="1.7"/>
<rect x="187.6" y="359.7" width="49.20000000000002" height="29.100000000000023" fill="none" stroke="#000" stroke-width="1.9"/>
<text x="213.2" y="365.0" font-size="5.0" text-anchor="middle" fill="#444" style="stroke:none">0.025%</text>
<line x1="174.2" y1="388.8" x2="176.6" y2="388.8" stroke="#000" stroke-width="1.3"/>
<rect x="169.29999999999998" y="388.0" width="2.6000000000000227" height="1.6000000000000227" fill="#2a2a2a"/>
<rect x="172.4" y="386.0" width="1.0" height="1.1999999999999886" fill="#222"/>
<line x1="174.2" y1="374.15" x2="176.6" y2="374.15" stroke="#000" stroke-width="1.3"/>
<rect x="169.29999999999998" y="373.34999999999997" width="2.6000000000000227" height="1.6000000000000227" fill="#2a2a2a"/>
<rect x="172.4" y="371.34999999999997" width="1.0" height="1.1999999999999886" fill="#222"/>
<line x1="174.2" y1="359.5" x2="176.6" y2="359.5" stroke="#000" stroke-width="1.3"/>
<rect x="169.29999999999998" y="358.7" width="2.6000000000000227" height="1.6000000000000227" fill="#2a2a2a"/>
<rect x="172.4" y="356.7" width="1.0" height="1.1999999999999886" fill="#222"/>
<line x1="174.2" y1="344.85" x2="176.6" y2="344.85" stroke="#000" stroke-width="1.3"/>
<rect x="169.29999999999998" y="344.05" width="2.6000000000000227" height="1.6000000000000227" fill="#2a2a2a"/>
<rect x="172.4" y="342.05" width="1.0" height="1.1999999999999886" fill="#222"/>
<line x1="174.2" y1="330.2" x2="176.6" y2="330.2" stroke="#000" stroke-width="1.3"/>
<rect x="169.29999999999998" y="329.4" width="2.6000000000000227" height="1.6000000000000227" fill="#2a2a2a"/>
<rect x="172.4" y="327.4" width="1.0" height="1.1999999999999886" fill="#222"/>
<rect x="177.7" y="393.0" width="2.3000000000000114" height="1.6000000000000227" fill="#2a2a2a"/>
<rect x="180.89999999999998" y="391.2" width="1.0" height="1.2000000000000455" fill="#222"/>
<line x1="181.39999999999998" y1="388.8" x2="181.39999999999998" y2="390.40000000000003" stroke="#000" stroke-width="1.0"/>
<rect x="191.6" y="393.0" width="2.3000000000000114" height="1.6000000000000227" fill="#2a2a2a"/>
<rect x="194.79999999999998" y="391.2" width="1.0" height="1.2000000000000455" fill="#222"/>
<line x1="195.29999999999998" y1="388.8" x2="195.29999999999998" y2="390.40000000000003" stroke="#000" stroke-width="1.0"/>
<rect x="205.5" y="393.0" width="2.3000000000000114" height="1.6000000000000227" fill="#2a2a2a"/>
<rect x="208.7" y="391.2" width="1.0" height="1.2000000000000455" fill="#222"/>
<line x1="209.2" y1="388.8" x2="209.2" y2="390.40000000000003" stroke="#000" stroke-width="1.0"/>
<rect x="219.39999999999998" y="393.0" width="2.3000000000000114" height="1.6000000000000227" fill="#2a2a2a"/>
<rect x="222.59999999999997" y="391.2" width="1.0" height="1.2000000000000455" fill="#222"/>
<line x1="223.09999999999997" y1="388.8" x2="223.09999999999997" y2="390.40000000000003" stroke="#000" stroke-width="1.0"/>
<rect x="233.29999999999998" y="393.0" width="2.3000000000000114" height="1.6000000000000227" fill="#2a2a2a"/>
<rect x="236.49999999999997" y="391.2" width="1.0" height="1.2000000000000455" fill="#222"/>
<line x1="236.99999999999997" y1="388.8" x2="236.99999999999997" y2="390.40000000000003" stroke="#000" stroke-width="1.0"/>
<defs><linearGradient id="g34_408" x1="0" y1="1" x2="0" y2="0"><stop offset="0" stop-color="#000"/><stop offset="0.746" stop-color="#0c0c0c"/><stop offset="0.881" stop-color="#3a3a3a"/><stop offset="1" stop-color="#f4f4f4"/></linearGradient></defs>
<polygon points="34.0,467.0 42.6,467.0 42.6,442 41.800000000000004,437.5 40.1,435.5 39.0,433.5 34.0,433.5" fill="url(#g34_408)"/>
<rect x="37.9" y="435.0" width="1" height="1" fill="rgb(70,70,70)" opacity="0.6"/>
<rect x="37.8" y="436.1" width="1" height="1" fill="rgb(78,78,78)" opacity="0.6"/>
<rect x="40.2" y="441.2" width="1" height="1" fill="rgb(59,59,59)" opacity="0.6"/>
<rect x="41.2" y="439.3" width="1" height="1" fill="rgb(86,86,86)" opacity="0.6"/>
<rect x="35.9" y="441.1" width="1" height="1" fill="rgb(99,99,99)" opacity="0.6"/>
<rect x="36.4" y="441.6" width="1" height="1" fill="rgb(90,90,90)" opacity="0.6"/>
<rect x="40.8" y="435.7" width="1" height="1" fill="rgb(125,125,125)" opacity="0.6"/>
<rect x="40.5" y="435.7" width="1" height="1" fill="rgb(95,95,95)" opacity="0.6"/>
<rect x="41.6" y="437.5" width="1" height="1" fill="rgb(93,93,93)" opacity="0.6"/>
<rect x="36.3" y="436.9" width="1" height="1" fill="rgb(132,132,132)" opacity="0.6"/>
<rect x="37.4" y="437.0" width="1" height="1" fill="rgb(98,98,98)" opacity="0.6"/>
<rect x="37.9" y="434.6" width="1" height="1" fill="rgb(82,82,82)" opacity="0.6"/>
<rect x="38.4" y="436.7" width="1" height="1" fill="rgb(48,48,48)" opacity="0.6"/>
<rect x="35.7" y="441.4" width="1" height="1" fill="rgb(69,69,69)" opacity="0.6"/>
<rect x="41.4" y="435.3" width="1" height="1" fill="rgb(73,73,73)" opacity="0.6"/>
<rect x="36.8" y="441.3" width="1" height="1" fill="rgb(63,63,63)" opacity="0.6"/>
<rect x="36.8" y="435.5" width="1" height="1" fill="rgb(94,94,94)" opacity="0.6"/>
<rect x="40.6" y="439.6" width="1" height="1" fill="rgb(73,73,73)" opacity="0.6"/>
<rect x="37.7" y="438.5" width="1" height="1" fill="rgb(105,105,105)" opacity="0.6"/>
<rect x="38.8" y="439.8" width="1" height="1" fill="rgb(51,51,51)" opacity="0.6"/>
<rect x="36.8" y="440.5" width="1" height="1" fill="rgb(63,63,63)" opacity="0.6"/>
<rect x="37.8" y="435.0" width="1" height="1" fill="rgb(42,42,42)" opacity="0.6"/>
<rect x="39.2" y="440.5" width="1" height="1" fill="rgb(50,50,50)" opacity="0.6"/>
<rect x="39.0" y="436.2" width="1" height="1" fill="rgb(73,73,73)" opacity="0.6"/>
<rect x="40.7" y="437.9" width="1" height="1" fill="rgb(83,83,83)" opacity="0.6"/>
<rect x="41.6" y="437.6" width="1" height="1" fill="rgb(74,74,74)" opacity="0.6"/>
<rect x="39.1" y="434.8" width="1" height="1" fill="rgb(130,130,130)" opacity="0.6"/>
<rect x="36.6" y="435.3" width="1" height="1" fill="rgb(60,60,60)" opacity="0.6"/>
<rect x="36.7" y="435.9" width="1" height="1" fill="rgb(79,79,79)" opacity="0.6"/>
<rect x="39.1" y="438.5" width="1" height="1" fill="rgb(66,66,66)" opacity="0.6"/>
<rect x="60.8" y="454.6" width="1" height="1" fill="#e6e6e6"/>
<rect x="56.2" y="451.7" width="1" height="1" fill="#e6e6e6"/>
<rect x="49.5" y="449.9" width="1" height="1" fill="#e6e6e6"/>
<rect x="49.3" y="459.0" width="1" height="1" fill="#e6e6e6"/>
<rect x="71.8" y="448.8" width="1" height="1" fill="#e6e6e6"/>
<rect x="68.6" y="462.8" width="1" height="1" fill="#e6e6e6"/>
<rect x="53.2" y="460.6" width="1" height="1" fill="#e6e6e6"/>
<rect x="66.8" y="454.5" width="1" height="1" fill="#e6e6e6"/>
<rect x="83.7" y="452.6" width="1" height="1" fill="#e6e6e6"/>
<rect x="69.9" y="458.1" width="1" height="1" fill="#e6e6e6"/>
<rect x="34.0" y="408.2" width="60.599999999999994" height="58.80000000000001" fill="none" stroke="#000" stroke-width="1.7"/>
<rect x="44.7" y="437.2" width="49.89999999999999" height="29.80000000000001" fill="none" stroke="#000" stroke-width="1.9"/>
<text x="70.65" y="442.5" font-size="5.0" text-anchor="middle" fill="#444" style="stroke:none">0.012%</text>
<line x1="31.6" y1="467.0" x2="34.0" y2="467.0" stroke="#000" stroke-width="1.3"/>
<rect x="26.7" y="466.2" width="2.6000000000000014" height="1.6000000000000227" fill="#2a2a2a"/>
<rect x="29.8" y="464.2" width="1.0" height="1.1999999999999886" fill="#222"/>
<line x1="31.6" y1="452.3" x2="34.0" y2="452.3" stroke="#000" stroke-width="1.3"/>
<rect x="26.7" y="451.5" width="2.6000000000000014" height="1.6000000000000227" fill="#2a2a2a"/>
<rect x="29.8" y="449.5" width="1.0" height="1.1999999999999886" fill="#222"/>
<line x1="31.6" y1="437.6" x2="34.0" y2="437.6" stroke="#000" stroke-width="1.3"/>
<rect x="26.7" y="436.8" width="2.6000000000000014" height="1.6000000000000227" fill="#2a2a2a"/>
<rect x="29.8" y="434.8" width="1.0" height="1.1999999999999886" fill="#222"/>
<line x1="31.6" y1="422.9" x2="34.0" y2="422.9" stroke="#000" stroke-width="1.3"/>
<rect x="26.7" y="422.09999999999997" width="2.6000000000000014" height="1.6000000000000227" fill="#2a2a2a"/>
<rect x="29.8" y="420.09999999999997" width="1.0" height="1.1999999999999886" fill="#222"/>
<line x1="31.6" y1="408.2" x2="34.0" y2="408.2" stroke="#000" stroke-width="1.3"/>
<rect x="26.7" y="407.4" width="2.6000000000000014" height="1.6000000000000227" fill="#2a2a2a"/>
<rect x="29.8" y="405.4" width="1.0" height="1.1999999999999886" fill="#222"/>
<rect x="35.1" y="471.2" width="2.299999999999997" height="1.6000000000000227" fill="#2a2a2a"/>
<rect x="38.300000000000004" y="469.4" width="1.0" height="1.2000000000000455" fill="#222"/>
<line x1="38.800000000000004" y1="467.0" x2="38.800000000000004" y2="468.6" stroke="#000" stroke-width="1.0"/>
<rect x="49.0" y="471.2" width="2.299999999999997" height="1.6000000000000227" fill="#2a2a2a"/>
<rect x="52.2" y="469.4" width="1.0" height="1.2000000000000455" fill="#222"/>
<line x1="52.7" y1="467.0" x2="52.7" y2="468.6" stroke="#000" stroke-width="1.0"/>
<rect x="62.900000000000006" y="471.2" width="2.299999999999997" height="1.6000000000000227" fill="#2a2a2a"/>
<rect x="66.10000000000001" y="469.4" width="1.0" height="1.2000000000000455" fill="#222"/>
<line x1="66.60000000000001" y1="467.0" x2="66.60000000000001" y2="468.6" stroke="#000" stroke-width="1.0"/>
<rect x="76.80000000000001" y="471.2" width="2.299999999999997" height="1.6000000000000227" fill="#2a2a2a"/>
<rect x="80.00000000000001" y="469.4" width="1.0" height="1.2000000000000455" fill="#222"/>
<line x1="80.50000000000001" y1="467.0" x2="80.50000000000001" y2="468.6" stroke="#000" stroke-width="1.0"/>
<rect x="90.7" y="471.2" width="2.299999999999997" height="1.6000000000000227" fill="#2a2a2a"/>
<rect x="93.9" y="469.4" width="1.0" height="1.2000000000000455" fill="#222"/>
<line x1="94.4" y1="467.0" x2="94.4" y2="468.6" stroke="#000" stroke-width="1.0"/>
<defs><linearGradient id="g105_408" x1="0" y1="1" x2="0" y2="0"><stop offset="0" stop-color="#000"/><stop offset="0.833" stop-color="#0c0c0c"/><stop offset="0.915" stop-color="#3a3a3a"/><stop offset="1" stop-color="#f4f4f4"/></linearGradient></defs>
<polygon points="105.6,467.0 114.0,467.0 114.0,439.5 113.2,436.8 111.5,436 110.6,434 105.6,434" fill="url(#g105_408)"/>
<rect x="112.9" y="436.5" width="1" height="1" fill="rgb(130,130,130)" opacity="0.6"/>
<rect x="111.3" y="435.6" width="1" height="1" fill="rgb(84,84,84)" opacity="0.6"/>
<rect x="112.9" y="438.8" width="1" height="1" fill="rgb(41,41,41)" opacity="0.6"/>
<rect x="107.1" y="438.3" width="1" height="1" fill="rgb(72,72,72)" opacity="0.6"/>
<rect x="109.4" y="435.2" width="1" height="1" fill="rgb(125,125,125)" opacity="0.6"/>
<rect x="112.0" y="438.9" width="1" height="1" fill="rgb(125,125,125)" opacity="0.6"/>
<rect x="112.8" y="437.7" width="1" height="1" fill="rgb(128,128,128)" opacity="0.6"/>
<rect x="108.5" y="437.1" width="1" height="1" fill="rgb(60,60,60)" opacity="0.6"/>
<rect x="108.3" y="435.0" width="1" height="1" fill="rgb(86,86,86)" opacity="0.6"/>
<rect x="112.8" y="439.4" width="1" height="1" fill="rgb(110,110,110)" opacity="0.6"/>
<rect x="108.7" y="435.2" width="1" height="1" fill="rgb(79,79,79)" opacity="0.6"/>
<rect x="108.0" y="435.8" width="1" height="1" fill="rgb(82,82,82)" opacity="0.6"/>
<rect x="109.0" y="437.1" width="1" height="1" fill="rgb(104,104,104)" opacity="0.6"/>
<rect x="110.8" y="436.1" width="1" height="1" fill="rgb(139,139,139)" opacity="0.6"/>
<rect x="106.6" y="436.2" width="1" height="1" fill="rgb(51,51,51)" opacity="0.6"/>
<rect x="107.5" y="437.6" width="1" height="1" fill="rgb(90,90,90)" opacity="0.6"/>
<rect x="106.7" y="436.4" width="1" height="1" fill="rgb(69,69,69)" opacity="0.6"/>
<rect x="107.1" y="439.3" width="1" height="1" fill="rgb(136,136,136)" opacity="0.6"/>
<rect x="107.6" y="439.0" width="1" height="1" fill="rgb(140,140,140)" opacity="0.6"/>
<rect x="112.2" y="436.8" width="1" height="1" fill="rgb(81,81,81)" opacity="0.6"/>
<rect x="111.2" y="437.2" width="1" height="1" fill="rgb(76,76,76)" opacity="0.6"/>
<rect x="111.2" y="437.9" width="1" height="1" fill="rgb(45,45,45)" opacity="0.6"/>
<rect x="111.9" y="438.2" width="1" height="1" fill="rgb(105,105,105)" opacity="0.6"/>
<rect x="110.6" y="438.3" width="1" height="1" fill="rgb(104,104,104)" opacity="0.6"/>
<rect x="107.5" y="437.4" width="1" height="1" fill="rgb(104,104,104)" opacity="0.6"/>
<rect x="110.2" y="438.7" width="1" height="1" fill="rgb(42,42,42)" opacity="0.6"/>
<rect x="111.9" y="437.6" width="1" height="1" fill="rgb(131,131,131)" opacity="0.6"/>
<rect x="111.0" y="438.1" width="1" height="1" fill="rgb(69,69,69)" opacity="0.6"/>
<rect x="107.1" y="435.2" width="1" height="1" fill="rgb(121,121,121)" opacity="0.6"/>
<rect x="108.9" y="435.5" width="1" height="1" fill="rgb(97,97,97)" opacity="0.6"/>
<rect x="143.5" y="457.2" width="1" height="1" fill="#e6e6e6"/>
<rect x="146.4" y="458.2" width="1" height="1" fill="#e6e6e6"/>
<rect x="140.7" y="445.9" width="1" height="1" fill="#e6e6e6"/>
<rect x="153.5" y="459.4" width="1" height="1" fill="#e6e6e6"/>
<rect x="141.2" y="455.5" width="1" height="1" fill="#e6e6e6"/>
<rect x="147.8" y="447.0" width="1" height="1" fill="#e6e6e6"/>
<rect x="151.0" y="450.4" width="1" height="1" fill="#e6e6e6"/>
<rect x="123.3" y="450.6" width="1" height="1" fill="#e6e6e6"/>
<rect x="150.7" y="449.5" width="1" height="1" fill="#e6e6e6"/>
<rect x="151.1" y="463.6" width="1" height="1" fill="#e6e6e6"/>
<rect x="105.6" y="408.5" width="60.400000000000006" height="58.5" fill="none" stroke="#000" stroke-width="1.7"/>
<rect x="116.2" y="437.8" width="49.8" height="29.19999999999999" fill="none" stroke="#000" stroke-width="1.9"/>
<text x="142.1" y="443.1" font-size="5.0" text-anchor="middle" fill="#444" style="stroke:none">0.004%</text>
<line x1="103.19999999999999" y1="467.0" x2="105.6" y2="467.0" stroke="#000" stroke-width="1.3"/>
<rect x="98.3" y="466.2" width="2.5999999999999943" height="1.6000000000000227" fill="#2a2a2a"/>
<rect x="101.39999999999999" y="464.2" width="1.0" height="1.1999999999999886" fill="#222"/>
<line x1="103.19999999999999" y1="452.375" x2="105.6" y2="452.375" stroke="#000" stroke-width="1.3"/>
<rect x="98.3" y="451.575" width="2.5999999999999943" height="1.6000000000000227" fill="#2a2a2a"/>
<rect x="101.39999999999999" y="449.575" width="1.0" height="1.1999999999999886" fill="#222"/>
<line x1="103.19999999999999" y1="437.75" x2="105.6" y2="437.75" stroke="#000" stroke-width="1.3"/>
<rect x="98.3" y="436.95" width="2.5999999999999943" height="1.6000000000000227" fill="#2a2a2a"/>
<rect x="101.39999999999999" y="434.95" width="1.0" height="1.1999999999999886" fill="#222"/>
<line x1="103.19999999999999" y1="423.125" x2="105.6" y2="423.125" stroke="#000" stroke-width="1.3"/>
<rect x="98.3" y="422.325" width="2.5999999999999943" height="1.6000000000000227" fill="#2a2a2a"/>
<rect x="101.39999999999999" y="420.325" width="1.0" height="1.1999999999999886" fill="#222"/>
<line x1="103.19999999999999" y1="408.5" x2="105.6" y2="408.5" stroke="#000" stroke-width="1.3"/>
<rect x="98.3" y="407.7" width="2.5999999999999943" height="1.6000000000000227" fill="#2a2a2a"/>
<rect x="101.39999999999999" y="405.7" width="1.0" height="1.1999999999999886" fill="#222"/>
<rect x="106.69999999999999" y="471.2" width="2.299999999999997" height="1.6000000000000227" fill="#2a2a2a"/>
<rect x="109.89999999999999" y="469.4" width="1.0" height="1.2000000000000455" fill="#222"/>
<line x1="110.39999999999999" y1="467.0" x2="110.39999999999999" y2="468.6" stroke="#000" stroke-width="1.0"/>
<rect x="120.6" y="471.2" width="2.299999999999997" height="1.6000000000000227" fill="#2a2a2a"/>
<rect x="123.8" y="469.4" width="1.0" height="1.2000000000000455" fill="#222"/>
<line x1="124.3" y1="467.0" x2="124.3" y2="468.6" stroke="#000" stroke-width="1.0"/>
<rect x="134.5" y="471.2" width="2.3000000000000114" height="1.6000000000000227" fill="#2a2a2a"/>
<rect x="137.7" y="469.4" width="1.0" height="1.2000000000000455" fill="#222"/>
<line x1="138.2" y1="467.0" x2="138.2" y2="468.6" stroke="#000" stroke-width="1.0"/>
<rect x="148.39999999999998" y="471.2" width="2.3000000000000114" height="1.6000000000000227" fill="#2a2a2a"/>
<rect x="151.59999999999997" y="469.4" width="1.0" height="1.2000000000000455" fill="#222"/>
<line x1="152.09999999999997" y1="467.0" x2="152.09999999999997" y2="468.6" stroke="#000" stroke-width="1.0"/>
<rect x="162.29999999999998" y="471.2" width="2.3000000000000114" height="1.6000000000000227" fill="#2a2a2a"/>
<rect x="165.49999999999997" y="469.4" width="1.0" height="1.2000000000000455" fill="#222"/>
<line x1="165.99999999999997" y1="467.0" x2="165.99999999999997" y2="468.6" stroke="#000" stroke-width="1.0"/>
<defs><linearGradient id="g176_408" x1="0" y1="1" x2="0" y2="0"><stop offset="0" stop-color="#000"/><stop offset="0.812" stop-color="#0c0c0c"/><stop offset="0.906" stop-color="#3a3a3a"/><stop offset="1" stop-color="#f4f4f4"/></linearGradient></defs>
<polygon points="176.4,467.0 184.9,467.0 184.9,441 184.1,438 182.4,437 181.4,435 176.4,435" fill="url(#g176_408)"/>
<rect x="180.6" y="437.9" width="1" height="1" fill="rgb(101,101,101)" opacity="0.6"/>
<rect x="183.3" y="437.4" width="1" height="1" fill="rgb(45,45,45)" opacity="0.6"/>
<rect x="181.4" y="439.2" width="1" height="1" fill="rgb(49,49,49)" opacity="0.6"/>
<rect x="181.3" y="437.7" width="1" height="1" fill="rgb(123,123,123)" opacity="0.6"/>
<rect x="182.2" y="437.5" width="1" height="1" fill="rgb(112,112,112)" opacity="0.6"/>
<rect x="178.3" y="438.4" width="1" height="1" fill="rgb(102,102,102)" opacity="0.6"/>
<rect x="179.1" y="439.4" width="1" height="1" fill="rgb(128,128,128)" opacity="0.6"/>
<rect x="178.8" y="438.4" width="1" height="1" fill="rgb(130,130,130)" opacity="0.6"/>
<rect x="180.8" y="438.3" width="1" height="1" fill="rgb(99,99,99)" opacity="0.6"/>
<rect x="182.4" y="441.0" width="1" height="1" fill="rgb(110,110,110)" opacity="0.6"/>
<rect x="178.7" y="440.9" width="1" height="1" fill="rgb(100,100,100)" opacity="0.6"/>
<rect x="177.5" y="438.3" width="1" height="1" fill="rgb(104,104,104)" opacity="0.6"/>
<rect x="183.7" y="438.2" width="1" height="1" fill="rgb(74,74,74)" opacity="0.6"/>
<rect x="179.9" y="440.6" width="1" height="1" fill="rgb(66,66,66)" opacity="0.6"/>
<rect x="177.9" y="436.5" width="1" height="1" fill="rgb(135,135,135)" opacity="0.6"/>
<rect x="180.8" y="440.8" width="1" height="1" fill="rgb(56,56,56)" opacity="0.6"/>
<rect x="181.3" y="439.2" width="1" height="1" fill="rgb(75,75,75)" opacity="0.6"/>
<rect x="183.2" y="439.5" width="1" height="1" fill="rgb(69,69,69)" opacity="0.6"/>
<rect x="180.6" y="440.4" width="1" height="1" fill="rgb(90,90,90)" opacity="0.6"/>
<rect x="177.6" y="436.0" width="1" height="1" fill="rgb(102,102,102)" opacity="0.6"/>
<rect x="181.8" y="438.0" width="1" height="1" fill="rgb(133,133,133)" opacity="0.6"/>
<rect x="178.3" y="437.7" width="1" height="1" fill="rgb(80,80,80)" opacity="0.6"/>
<rect x="178.2" y="437.7" width="1" height="1" fill="rgb(81,81,81)" opacity="0.6"/>
<rect x="182.3" y="440.2" width="1" height="1" fill="rgb(55,55,55)" opacity="0.6"/>
<rect x="183.5" y="437.0" width="1" height="1" fill="rgb(41,41,41)" opacity="0.6"/>
<rect x="183.3" y="437.4" width="1" height="1" fill="rgb(87,87,87)" opacity="0.6"/>
<rect x="177.8" y="438.0" width="1" height="1" fill="rgb(115,115,115)" opacity="0.6"/>
<rect x="177.9" y="440.6" width="1" height="1" fill="rgb(136,136,136)" opacity="0.6"/>
<rect x="179.2" y="436.2" width="1" height="1" fill="rgb(53,53,53)" opacity="0.6"/>
<rect x="177.7" y="439.3" width="1" height="1" fill="rgb(121,121,121)" opacity="0.6"/>
<rect x="230.3" y="450.3" width="1" height="1" fill="#e6e6e6"/>
<rect x="202.4" y="455.1" width="1" height="1" fill="#e6e6e6"/>
<rect x="199.2" y="452.6" width="1" height="1" fill="#e6e6e6"/>
<rect x="231.2" y="461.9" width="1" height="1" fill="#e6e6e6"/>
<rect x="225.2" y="457.3" width="1" height="1" fill="#e6e6e6"/>
<rect x="229.4" y="462.9" width="1" height="1" fill="#e6e6e6"/>
<rect x="214.2" y="458.9" width="1" height="1" fill="#e6e6e6"/>
<rect x="193.4" y="459.1" width="1" height="1" fill="#e6e6e6"/>
<rect x="210.1" y="459.5" width="1" height="1" fill="#e6e6e6"/>
<rect x="218.2" y="451.0" width="1" height="1" fill="#e6e6e6"/>
<rect x="176.4" y="408.5" width="60.599999999999994" height="58.5" fill="none" stroke="#000" stroke-width="1.7"/>
<rect x="187.3" y="437.8" width="49.69999999999999" height="29.19999999999999" fill="none" stroke="#000" stroke-width="1.9"/>
<text x="213.15" y="443.1" font-size="5.0" text-anchor="middle" fill="#444" style="stroke:none">0.010%</text>
<line x1="174.0" y1="467.0" x2="176.4" y2="467.0" stroke="#000" stroke-width="1.3"/>
<rect x="169.1" y="466.2" width="2.6000000000000227" height="1.6000000000000227" fill="#2a2a2a"/>
<rect x="172.20000000000002" y="464.2" width="1.0" height="1.1999999999999886" fill="#222"/>
<line x1="174.0" y1="452.375" x2="176.4" y2="452.375" stroke="#000" stroke-width="1.3"/>
<rect x="169.1" y="451.575" width="2.6000000000000227" height="1.6000000000000227" fill="#2a2a2a"/>
<rect x="172.20000000000002" y="449.575" width="1.0" height="1.1999999999999886" fill="#222"/>
<line x1="174.0" y1="437.75" x2="176.4" y2="437.75" stroke="#000" stroke-width="1.3"/>
<rect x="169.1" y="436.95" width="2.6000000000000227" height="1.6000000000000227" fill="#2a2a2a"/>
<rect x="172.20000000000002" y="434.95" width="1.0" height="1.1999999999999886" fill="#222"/>
<line x1="174.0" y1="423.125" x2="176.4" y2="423.125" stroke="#000" stroke-width="1.3"/>
<rect x="169.1" y="422.325" width="2.6000000000000227" height="1.6000000000000227" fill="#2a2a2a"/>
<rect x="172.20000000000002" y="420.325" width="1.0" height="1.1999999999999886" fill="#222"/>
<line x1="174.0" y1="408.5" x2="176.4" y2="408.5" stroke="#000" stroke-width="1.3"/>
<rect x="169.1" y="407.7" width="2.6000000000000227" height="1.6000000000000227" fill="#2a2a2a"/>
<rect x="172.20000000000002" y="405.7" width="1.0" height="1.1999999999999886" fill="#222"/>
<rect x="177.5" y="471.2" width="2.3000000000000114" height="1.6000000000000227" fill="#2a2a2a"/>
<rect x="180.7" y="469.4" width="1.0" height="1.2000000000000455" fill="#222"/>
<line x1="181.2" y1="467.0" x2="181.2" y2="468.6" stroke="#000" stroke-width="1.0"/>
<rect x="191.4" y="471.2" width="2.3000000000000114" height="1.6000000000000227" fill="#2a2a2a"/>
<rect x="194.6" y="469.4" width="1.0" height="1.2000000000000455" fill="#222"/>
<line x1="195.1" y1="467.0" x2="195.1" y2="468.6" stroke="#000" stroke-width="1.0"/>
<rect x="205.3" y="471.2" width="2.3000000000000114" height="1.6000000000000227" fill="#2a2a2a"/>
<rect x="208.5" y="469.4" width="1.0" height="1.2000000000000455" fill="#222"/>
<line x1="209.0" y1="467.0" x2="209.0" y2="468.6" stroke="#000" stroke-width="1.0"/>
<rect x="219.2" y="471.2" width="2.3000000000000114" height="1.6000000000000227" fill="#2a2a2a"/>
<rect x="222.39999999999998" y="469.4" width="1.0" height="1.2000000000000455" fill="#222"/>
<line x1="222.89999999999998" y1="467.0" x2="222.89999999999998" y2="468.6" stroke="#000" stroke-width="1.0"/>
<rect x="233.1" y="471.2" width="2.3000000000000114" height="1.6000000000000227" fill="#2a2a2a"/>
<rect x="236.29999999999998" y="469.4" width="1.0" height="1.2000000000000455" fill="#222"/>
<line x1="236.79999999999998" y1="467.0" x2="236.79999999999998" y2="468.6" stroke="#000" stroke-width="1.0"/>
<text x="63.2" y="324.5" font-size="8.3" text-anchor="middle" fill="#000" >Control</text>
<text x="137.1" y="324.5" font-size="8.3" text-anchor="middle" fill="#000" >PKBinh 24h</text>
<text x="205.4" y="324.5" font-size="8.3" text-anchor="middle" fill="#000" >PKBinh 48h</text>
<text x="242" y="364.6" font-size="8.3" text-anchor="start" fill="#000" >Bone Marrow</text>
<text x="242" y="438.5" font-size="8.1" text-anchor="start" fill="#000" >Spleen</text>
<line x1="34" y1="398.8" x2="91" y2="398.8" stroke="#000" stroke-width="1.6"/>
<polygon points="90,396.8 94,398.8 90,400.8" fill="#000"/>
<text x="63.5" y="405.6" font-size="8.3" text-anchor="middle" fill="#000" >CellTracker</text>
<line x1="34.4" y1="476.3" x2="91.5" y2="476.3" stroke="#000" stroke-width="1.6"/>
<polygon points="90.5,474.3 94.5,476.3 90.5,478.3" fill="#000"/>
<text x="63.3" y="484.6" font-size="8.3" text-anchor="middle" fill="#000" >CellTracker</text>
<text x="1" y="509.4" style='font-family:"Liberation Sans", sans-serif;font-weight:bold;stroke:#000;stroke-width:0.45px' font-size="13.5">G</text>
<text x="105.2" y="512.8" font-size="9.2" text-anchor="middle" fill="#000" >Bone marrow</text>
<rect x="35.2" y="517.3" width="145.10000000000002" height="114.0" fill="none" stroke="#000" stroke-width="2"/>
<line x1="30.6" y1="537.7" x2="34.6" y2="537.7" stroke="#000" stroke-width="1.8"/>
<text x="29.1" y="536.2" font-size="9.6" text-anchor="end" fill="#000" dominant-baseline="central">10</text>
<line x1="30.6" y1="575.8" x2="34.6" y2="575.8" stroke="#000" stroke-width="1.8"/>
<text x="29.1" y="574.3" font-size="9.6" text-anchor="end" fill="#000" dominant-baseline="central">6</text>
<line x1="30.6" y1="611.5" x2="34.6" y2="611.5" stroke="#000" stroke-width="1.8"/>
<text x="29.1" y="610.0" font-size="9.6" text-anchor="end" fill="#000" dominant-baseline="central">2</text>
<text transform="translate(6.5,574.2) rotate(-90)" x="0" y="0" font-size="10.2" text-anchor="middle" dominant-baseline="central" textLength="95.9" lengthAdjust="spacingAndGlyphs">Engraftment levels (%)</text>
<line x1="65.65" y1="596.8" x2="65.65" y2="607.0" stroke="#000" stroke-width="1.7"/>
<line x1="63.35000000000001" y1="597.65" x2="67.95" y2="597.65" stroke="#000" stroke-width="1.7"/>
<rect x="52.5" y="606.0" width="26.299999999999997" height="25.0" fill="#000"/>
<line x1="109.3" y1="576.3" x2="109.3" y2="590.5" stroke="#000" stroke-width="1.7"/>
<line x1="107.0" y1="577.15" x2="111.6" y2="577.15" stroke="#000" stroke-width="1.7"/>
<rect x="97.3" y="590.5" width="24.0" height="39.5" fill="#a0a0a0" stroke="#000" stroke-width="2"/>
<line x1="152.1" y1="537.5" x2="152.1" y2="565.8" stroke="#000" stroke-width="1.7"/>
<line x1="149.79999999999998" y1="538.35" x2="154.4" y2="538.35" stroke="#000" stroke-width="1.7"/>
<rect x="140.2" y="565.8" width="23.80000000000001" height="64.20000000000005" fill="#d6d6d6" stroke="#000" stroke-width="2"/>
<rect x="187.9" y="517.5" width="7.299999999999983" height="7.2999999999999545" fill="#000"/>
<text x="198.5" y="524.6" font-size="9.0" text-anchor="start" fill="#000" >Control</text>
<rect x="188.55" y="530.25" width="5.999999999999983" height="5.800000000000023" fill="#a0a0a0" stroke="#000" stroke-width="1.3"/>
<text x="198.5" y="536.2" font-size="9.0" text-anchor="start" fill="#000" >PKBinh 24h</text>
<rect x="188.55" y="542.15" width="5.999999999999983" height="5.999999999999955" fill="#d6d6d6" stroke="#000" stroke-width="1.3"/>
<text x="198.5" y="547.7" font-size="9.0" text-anchor="start" fill="#000" >PKBinh 48h</text>
<text x="275.8" y="510" style='font-family:"Liberation Sans", sans-serif;font-weight:bold;stroke:#000;stroke-width:0.45px' font-size="13.5">H</text>
<text x="381.5" y="512.9" font-size="9.2" text-anchor="middle" fill="#000" >Bone marrow</text>
<rect x="311.5" y="517.4" width="144.8" height="113.80000000000007" fill="none" stroke="#000" stroke-width="2"/>
<line x1="306.9" y1="535.8" x2="310.9" y2="535.8" stroke="#000" stroke-width="1.8"/>
<text x="305.4" y="534.3" font-size="9.6" text-anchor="end" fill="#000" dominant-baseline="central">10</text>
<line x1="306.9" y1="573.8" x2="310.9" y2="573.8" stroke="#000" stroke-width="1.8"/>
<text x="305.4" y="572.3" font-size="9.6" text-anchor="end" fill="#000" dominant-baseline="central">6</text>
<line x1="306.9" y1="609" x2="310.9" y2="609" stroke="#000" stroke-width="1.8"/>
<text x="305.4" y="607.5" font-size="9.6" text-anchor="end" fill="#000" dominant-baseline="central">2</text>
<text transform="translate(286.5,574.5) rotate(-90)" x="0" y="0" font-size="10.1" text-anchor="middle" dominant-baseline="central" textLength="95.2" lengthAdjust="spacingAndGlyphs">Engraftment levels (FI)</text>
<rect x="320.8" y="621.2" width="26.5" height="9.799999999999955" fill="#000"/>
<line x1="382.4" y1="616.5" x2="382.4" y2="618.5" stroke="#000" stroke-width="1"/>
<line x1="380.9" y1="617.15" x2="383.9" y2="617.15" stroke="#000" stroke-width="1.3"/>
<rect x="370.2" y="618.5" width="24.400000000000034" height="11.5" fill="#a0a0a0" stroke="#000" stroke-width="2"/>
<line x1="431.1" y1="530.8" x2="431.1" y2="574.3" stroke="#000" stroke-width="1"/>
<line x1="429.6" y1="531.55" x2="432.6" y2="531.55" stroke="#000" stroke-width="1.5"/>
<rect x="419.0" y="574.3" width="24" height="55.700000000000045" fill="#d6d6d6" stroke="#000" stroke-width="2"/>
<line x1="334.2" y1="524.6" x2="432.4" y2="524.6" stroke="#000" stroke-width="2"/>
<line x1="384.0" y1="518.9" x2="384.0" y2="523.5" stroke="#000" stroke-width="0.75"/>
<line x1="382.01" y1="520.05" x2="385.99" y2="522.35" stroke="#000" stroke-width="0.75"/>
<line x1="385.99" y1="520.05" x2="382.01" y2="522.35" stroke="#000" stroke-width="0.75"/>
<line x1="334.2" y1="531.4" x2="380.1" y2="531.4" stroke="#000" stroke-width="2"/>
<line x1="357.3" y1="525.9" x2="357.3" y2="530.5" stroke="#000" stroke-width="0.75"/>
<line x1="355.31" y1="527.05" x2="359.29" y2="529.35" stroke="#000" stroke-width="0.75"/>
<line x1="359.29" y1="527.05" x2="355.31" y2="529.35" stroke="#000" stroke-width="0.75"/>
<rect x="462.8" y="518.5" width="7.199999999999989" height="6.5" fill="#000"/>
<text x="473" y="524.7" font-size="9.0" text-anchor="start" fill="#000" >Control</text>
<rect x="463.45" y="531.05" width="5.899999999999989" height="5.000000000000068" fill="#a0a0a0" stroke="#000" stroke-width="1.3"/>
<text x="473" y="536.2" font-size="9.0" text-anchor="start" fill="#000" >PKBinh 24h</text>
<rect x="463.45" y="541.9499999999999" width="5.899999999999989" height="5.400000000000046" fill="#d6d6d6" stroke="#000" stroke-width="1.3"/>
<text x="473" y="547.8" font-size="9.0" text-anchor="start" fill="#000" >PKBinh 48h</text>
<text x="0.5" y="656.5" style='font-family:"Liberation Sans", sans-serif;font-weight:bold;stroke:#000;stroke-width:0.45px' font-size="13.5">I</text>
<text x="105" y="665.4" font-size="9.2" text-anchor="middle" fill="#000" >Spleen</text>
<rect x="35.2" y="669.5" width="145.39999999999998" height="114.5" fill="none" stroke="#000" stroke-width="2"/>
<line x1="30.6" y1="689.6" x2="34.6" y2="689.6" stroke="#000" stroke-width="1.8"/>
<text x="29.1" y="688.1" font-size="9.6" text-anchor="end" fill="#000" dominant-baseline="central">1</text>
<line x1="30.6" y1="727.5" x2="34.6" y2="727.5" stroke="#000" stroke-width="1.8"/>
<text x="29.1" y="726.0" font-size="9.6" text-anchor="end" fill="#000" dominant-baseline="central">0.6</text>
<line x1="30.6" y1="762.5" x2="34.6" y2="762.5" stroke="#000" stroke-width="1.8"/>
<text x="29.1" y="761.0" font-size="9.6" text-anchor="end" fill="#000" dominant-baseline="central">0.2</text>
<text transform="translate(6.5,729.5) rotate(-90)" x="0" y="0" font-size="10.2" text-anchor="middle" dominant-baseline="central" textLength="95.9" lengthAdjust="spacingAndGlyphs">Engraftment levels (%)</text>
<line x1="63.35" y1="750.6" x2="63.35" y2="760.6" stroke="#000" stroke-width="1.6"/>
<line x1="61.050000000000004" y1="751.4" x2="65.65" y2="751.4" stroke="#000" stroke-width="1.6"/>
<rect x="50.2" y="759.6" width="26.299999999999997" height="25.399999999999977" fill="#000"/>
<line x1="106.6" y1="701.0" x2="106.6" y2="727.0" stroke="#000" stroke-width="1.6"/>
<line x1="104.3" y1="701.8" x2="108.89999999999999" y2="701.8" stroke="#000" stroke-width="1.6"/>
<rect x="94.6" y="727.0" width="24.0" height="57.0" fill="#a0a0a0" stroke="#000" stroke-width="2"/>
<line x1="149.85" y1="688.4" x2="149.85" y2="704.2" stroke="#000" stroke-width="1.6"/>
<line x1="147.54999999999998" y1="689.1999999999999" x2="152.15" y2="689.1999999999999" stroke="#000" stroke-width="1.6"/>
<rect x="138.0" y="704.2" width="23.69999999999999" height="79.79999999999995" fill="#d6d6d6" stroke="#000" stroke-width="2"/>
<line x1="34" y1="783.5" x2="181.6" y2="783.5" stroke="#000" stroke-width="2.2"/>
<rect x="189.2" y="670.8" width="7.300000000000011" height="6.900000000000091" fill="#000"/>
<text x="200" y="677.1" font-size="9.0" text-anchor="start" fill="#000" >Control</text>
<rect x="189.85" y="682.9499999999999" width="6.0000000000000115" height="5.600000000000091" fill="#a0a0a0" stroke="#000" stroke-width="1.3"/>
<text x="200" y="688.7" font-size="9.0" text-anchor="start" fill="#000" >PKBinh 24h</text>
<rect x="189.85" y="694.65" width="6.0000000000000115" height="5.900000000000046" fill="#d6d6d6" stroke="#000" stroke-width="1.3"/>
<text x="200" y="700.6" font-size="9.0" text-anchor="start" fill="#000" >PKBinh 48h</text>
<text x="276.3" y="656.3" style='font-family:"Liberation Sans", sans-serif;font-weight:bold;stroke:#000;stroke-width:0.45px' font-size="13.5">J</text>
<text x="383.2" y="664.8" font-size="9.2" text-anchor="middle" fill="#000" >Spleen</text>
<rect x="312.0" y="669.5" width="145.2" height="114.5" fill="none" stroke="#000" stroke-width="2"/>
<line x1="307.2" y1="686.3" x2="311.2" y2="686.3" stroke="#000" stroke-width="1.8"/>
<text x="305.7" y="684.8" font-size="9.6" text-anchor="end" fill="#000" dominant-baseline="central">25</text>
<line x1="307.2" y1="724.6" x2="311.2" y2="724.6" stroke="#000" stroke-width="1.8"/>
<text x="305.7" y="723.1" font-size="9.6" text-anchor="end" fill="#000" dominant-baseline="central">15</text>
<line x1="307.2" y1="763" x2="311.2" y2="763" stroke="#000" stroke-width="1.8"/>
<text x="305.7" y="761.5" font-size="9.6" text-anchor="end" fill="#000" dominant-baseline="central">5</text>
<text transform="translate(286.5,729) rotate(-90)" x="0" y="0" font-size="10.1" text-anchor="middle" dominant-baseline="central" textLength="94.8" lengthAdjust="spacingAndGlyphs">Engraftment levels (FI)</text>
<rect x="321.3" y="778.8" width="26.0" height="6.2000000000000455" fill="#000"/>
<line x1="382.5" y1="773.6" x2="382.5" y2="776" stroke="#000" stroke-width="1"/>
<line x1="381.0" y1="774.25" x2="384.0" y2="774.25" stroke="#000" stroke-width="1.3"/>
<rect x="370.5" y="776.0" width="24.0" height="8" fill="#a0a0a0" stroke="#000" stroke-width="2"/>
<line x1="431.7" y1="677" x2="431.7" y2="725" stroke="#000" stroke-width="1"/>
<line x1="430.2" y1="677.75" x2="433.2" y2="677.75" stroke="#000" stroke-width="1.5"/>
<rect x="419.8" y="725.3" width="24.19999999999999" height="58.700000000000045" fill="#d6d6d6" stroke="#000" stroke-width="2"/>
<line x1="311" y1="783.5" x2="458.2" y2="783.5" stroke="#000" stroke-width="2.2"/>
<line x1="335.6" y1="677.8" x2="430.4" y2="677.8" stroke="#000" stroke-width="2"/>
<line x1="383.3" y1="672.6" x2="383.3" y2="677.4" stroke="#000" stroke-width="0.75"/>
<line x1="381.22" y1="673.8" x2="385.38" y2="676.2" stroke="#000" stroke-width="0.75"/>
<line x1="385.38" y1="673.8" x2="381.22" y2="676.2" stroke="#000" stroke-width="0.75"/>
<rect x="464.9" y="671.6" width="7.100000000000023" height="6.199999999999932" fill="#000"/>
<text x="475" y="677.3" font-size="9.0" text-anchor="start" fill="#000" >Control</text>
<rect x="465.54999999999995" y="683.65" width="5.800000000000023" height="4.900000000000046" fill="#a0a0a0" stroke="#000" stroke-width="1.3"/>
<text x="475" y="688.8" font-size="9.0" text-anchor="start" fill="#000" >PKBinh 24h</text>
<rect x="465.54999999999995" y="694.85" width="5.800000000000023" height="5.299999999999909" fill="#d6d6d6" stroke="#000" stroke-width="1.3"/>
<text x="475" y="700.4" font-size="9.0" text-anchor="start" fill="#000" >PKBinh 48h</text>
</svg>
</body></html>
